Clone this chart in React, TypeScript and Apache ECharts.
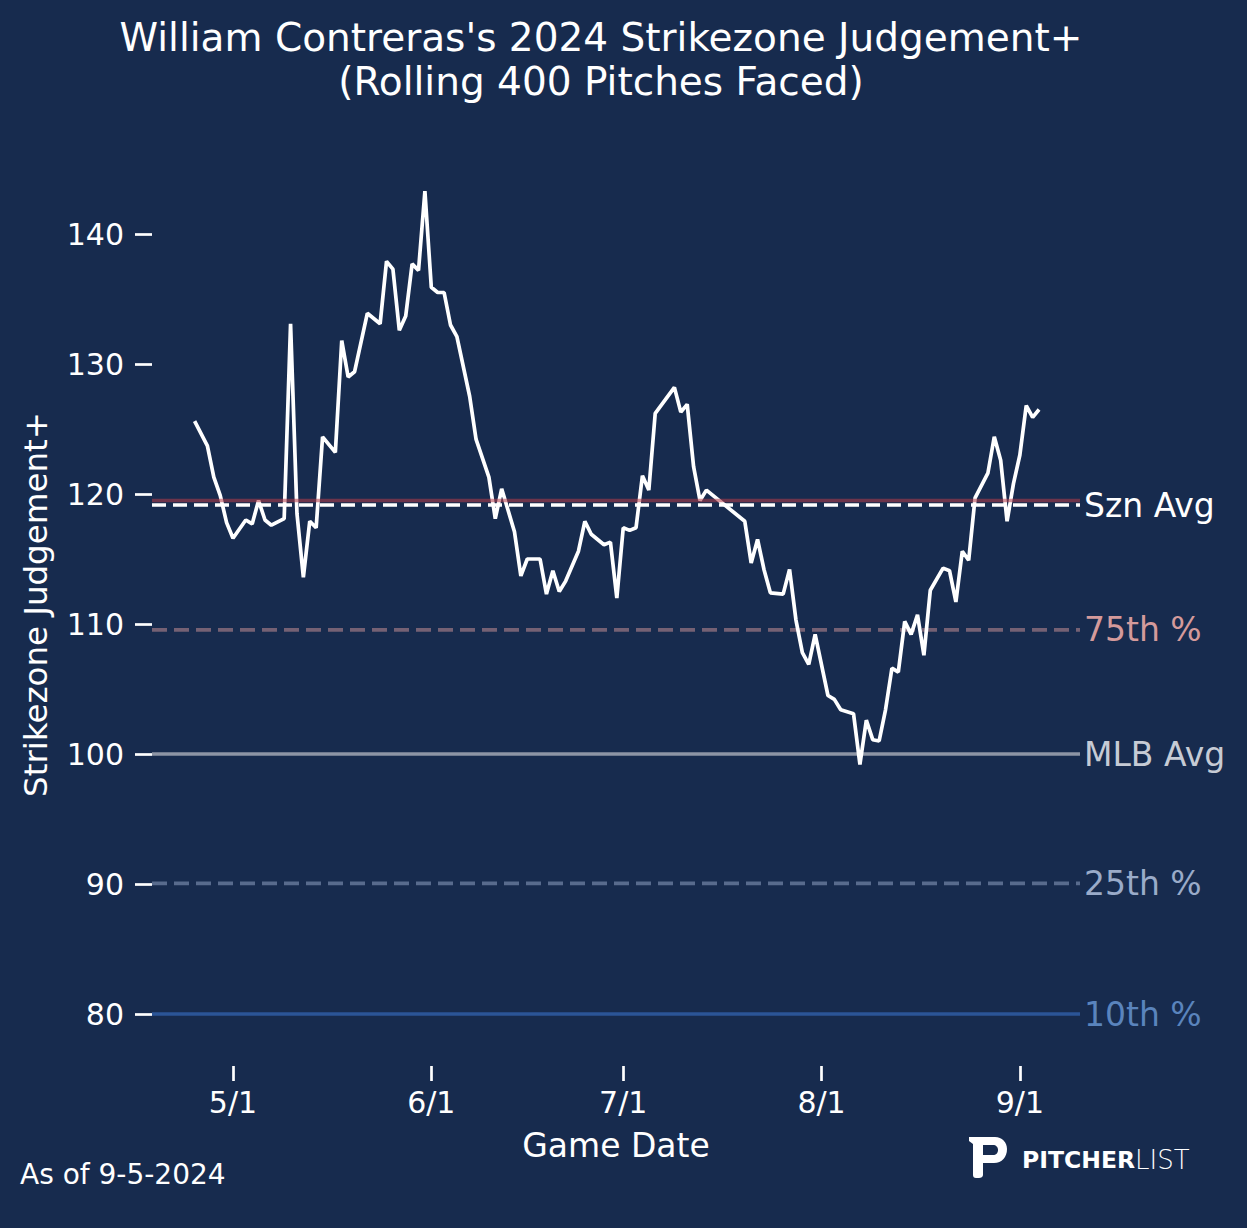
import React, { useEffect, useRef } from 'react';
import * as echarts from 'echarts';

const BG = '#172b4e';
const FONT = 'DejaVu Sans';

const gameDates = [
  '04-25', '04-27', '04-28', '04-29', '04-30', '05-01', '05-03', '05-04', '05-05', '05-06',
  '05-07', '05-09', '05-10', '05-11', '05-12', '05-13', '05-14', '05-15', '05-17', '05-18',
  '05-19', '05-20', '05-22', '05-24', '05-25', '05-26', '05-27', '05-28', '05-29', '05-30',
  '05-31', '06-01', '06-02', '06-03', '06-04', '06-05', '06-07', '06-08', '06-10', '06-11',
  '06-12', '06-14', '06-15', '06-16', '06-18', '06-19', '06-20', '06-21', '06-22', '06-24',
  '06-25', '06-26', '06-28', '06-29', '06-30', '07-01', '07-02', '07-03', '07-04', '07-05',
  '07-06', '07-09', '07-10', '07-11', '07-12', '07-13', '07-14', '07-20', '07-21', '07-22',
  '07-23', '07-24', '07-26', '07-27', '07-28', '07-29', '07-30', '07-31', '08-02', '08-03',
  '08-04', '08-06', '08-07', '08-08', '08-09', '08-10', '08-11', '08-12', '08-13', '08-14',
  '08-15', '08-16', '08-17', '08-18', '08-20', '08-21', '08-22', '08-23', '08-24', '08-25',
  '08-27', '08-28', '08-29', '08-30', '08-31', '09-01', '09-02', '09-03', '09-04',
];

const judgement = [
  125.6, 123.7, 121.3, 119.9, 117.8, 116.6, 118.0, 117.7, 119.5, 118.0,
  117.6, 118.1, 133.1, 118.5, 113.6, 117.9, 117.4, 124.4, 123.2, 131.8,
  129.0, 129.4, 133.9, 133.1, 137.9, 137.3, 132.6, 133.7, 137.7, 137.2,
  143.3, 135.9, 135.5, 135.5, 133.0, 132.1, 127.5, 124.2, 121.3, 118.1,
  120.4, 117.1, 113.7, 115.0, 115.0, 112.3, 114.1, 112.5, 113.3, 115.6,
  117.9, 116.9, 116.1, 116.3, 112.0, 117.4, 117.2, 117.4, 121.4, 120.3,
  126.2, 128.2, 126.3, 126.9, 122.1, 119.5, 120.3, 117.9, 114.7, 116.5,
  114.2, 112.4, 112.3, 114.2, 110.3, 107.8, 106.9, 109.2, 104.5, 104.2,
  103.4, 103.1, 99.2, 102.6, 101.1, 101.0, 103.4, 106.6, 106.3, 110.2,
  109.2, 110.7, 107.6, 112.6, 114.3, 114.1, 111.7, 115.6, 114.9, 119.7,
  121.6, 124.4, 122.6, 117.9, 120.8, 123.0, 126.8, 125.9, 126.5,
];

const xTickLabels = ['5/1', '6/1', '7/1', '8/1', '9/1'];
const yTicks = [80, 90, 100, 110, 120, 130, 140];

const refLabels = ['', 'Szn Avg', '75th %', 'MLB Avg', '25th %', '10th %'];
const refValues = [119.5, 119.15, 109.55, 100, 90.05, 80];

const titleLines = ["William Contreras's 2024 Strikezone Judgement+", '(Rolling 400 Pitches Faced)'];
const footnote = 'As of 9-5-2024';

// styles for reference lines (same order as refValues)
const refStyles = [
  { color: 'rgba(180,60,72,0.55)', type: 'solid', label: '#ffffff', z: 4 },
  { color: '#ffffff', type: [14, 7], label: '#ffffff', z: 5 },
  { color: 'rgba(212,152,154,0.5)', type: [15, 7], label: '#d49a9b', z: 1 },
  { color: '#8d95a5', type: 'solid', label: '#c6cbd5', z: 1 },
  { color: 'rgba(154,172,203,0.5)', type: [15, 7], label: '#9aabc9', z: 1 },
  { color: '#2b5597', type: 'solid', label: '#5a84bd', z: 1 },
];

const X_MIN = -12.66;
const X_MAX = 132.4;
const Y_MIN = 76;
const Y_MAX = 147;

const LOGO_D =
  'M0,0 L26,0 C33,0 38,5 38,12 C38,20 33,26 25,26 L14,26 L14,38 C14,40 12,41 10,41 L7,41 C5,41 4,40 4,38 L4,7 L0,4 Z';
const LOGO_HOLE_D = 'M14,8 L24,8 C27,8 29,10 29,13 C29,16 27,18 24,18 L14,18 Z';

function dayOffset(s: string): number {
  const [m, d] = s.split(/[-/]/).map(Number);
  return (Date.UTC(2024, m - 1, d) - Date.UTC(2024, 4, 1)) / 86400000;
}

export default function App() {
  const ref = useRef<HTMLDivElement>(null);
  useEffect(() => {
    document.body.style.margin = '0';
    document.body.style.background = BG;
    echarts.graphic.registerShape('plLogo', echarts.graphic.extendPath(LOGO_D, {}));
    echarts.graphic.registerShape('plLogoHole', echarts.graphic.extendPath(LOGO_HOLE_D, {}));
    const chart = echarts.init(ref.current!, null, { renderer: 'svg' });

    const lineData = gameDates.map((d, i) => [dayOffset(d), judgement[i]]);
    const xTicks = xTickLabels.map(dayOffset);

    const refSeries = refValues.map((v, i) => ({
      type: 'line',
      data: [[X_MIN, v], [X_MAX, v]],
      showSymbol: false,
      silent: true,
      z: refStyles[i].z,
      lineStyle: { color: refStyles[i].color, width: 3.6, type: refStyles[i].type },
      endLabel: refLabels[i]
        ? {
            show: true,
            formatter: refLabels[i],
            color: refStyles[i].label,
            fontSize: 33,
            fontFamily: FONT,
            distance: 4,
          }
        : { show: false },
    }));

    const option: any = {
      animation: false,
      backgroundColor: BG,
      textStyle: { fontFamily: FONT },
      grid: { left: 152, top: 143, width: 928, height: 923, outerBoundsMode: 'none' },
      xAxis: {
        type: 'value',
        min: X_MIN,
        max: X_MAX,
        axisLine: { show: false, onZero: false },
        splitLine: { show: false },
        axisTick: { show: true, length: 15, lineStyle: { color: '#ffffff', width: 2.7 }, customValues: xTicks },
        axisLabel: {
          color: '#ffffff',
          fontSize: 30,
          fontFamily: FONT,
          margin: 21,
          customValues: xTicks,
          formatter: (v: number) => {
            const idx = xTicks.findIndex((t) => Math.abs(t - v) < 1e-6);
            return idx >= 0 ? xTickLabels[idx] : '';
          },
        },
        name: 'Game Date',
        nameLocation: 'middle',
        nameGap: 63,
        nameTextStyle: { color: '#ffffff', fontSize: 33, fontFamily: FONT },
      },
      yAxis: {
        type: 'value',
        min: Y_MIN,
        max: Y_MAX,
        axisLine: { show: false, onZero: false },
        splitLine: { show: false },
        axisTick: { show: true, length: 17, lineStyle: { color: '#ffffff', width: 2.7 }, customValues: yTicks },
        axisLabel: { color: '#ffffff', fontSize: 30, fontFamily: FONT, margin: 28, customValues: yTicks },
        name: 'Strikezone Judgement+',
        nameLocation: 'middle',
        nameRotate: 90,
        nameGap: 100,
        nameTextStyle: { color: '#ffffff', fontSize: 32.5, fontFamily: FONT },
      },
      series: [
        {
          type: 'line',
          data: lineData,
          showSymbol: false,
          z: 3,
          lineStyle: { color: '#ffffff', width: 3.7 },
        },
        ...refSeries,
      ],
      graphic: [
        {
          type: 'text',
          x: 601,
          y: 37,
          style: { text: titleLines[0], fill: '#ffffff', fontSize: 39, fontFamily: FONT, textAlign: 'center', textVerticalAlign: 'middle' },
        },
        {
          type: 'text',
          x: 601,
          y: 81,
          style: { text: titleLines[1], fill: '#ffffff', fontSize: 39, fontFamily: FONT, textAlign: 'center', textVerticalAlign: 'middle' },
        },
        {
          type: 'text',
          x: 20,
          y: 1174,
          style: { text: footnote, fill: '#ffffff', fontSize: 28, fontFamily: FONT, textAlign: 'left', textVerticalAlign: 'middle' },
        },
        {
          type: 'plLogo',
          x: 969,
          y: 1137,
          style: { fill: '#ffffff' },
        },
        {
          type: 'plLogoHole',
          x: 969,
          y: 1137,
          z: 10,
          style: { fill: BG },
        },
        {
          type: 'text',
          x: 1022,
          y: 1160,
          style: {
            text: '{a|PITCHER}{b|LIST}',
            textVerticalAlign: 'middle',
            rich: {
              a: { fill: '#ffffff', fontSize: 23.5, fontWeight: 'bold', fontFamily: FONT },
              b: { fill: '#ffffff', fontSize: 26, fontWeight: 200, fontFamily: FONT },
            },
          },
        },
      ],
    };
    chart.setOption(option);
    return () => chart.dispose();
  }, []);
  return (
    <div
      ref={ref}
      style={{ position: 'fixed', left: 0, top: 0, width: 1247, height: 1228, background: BG }}
    />
  );
}
